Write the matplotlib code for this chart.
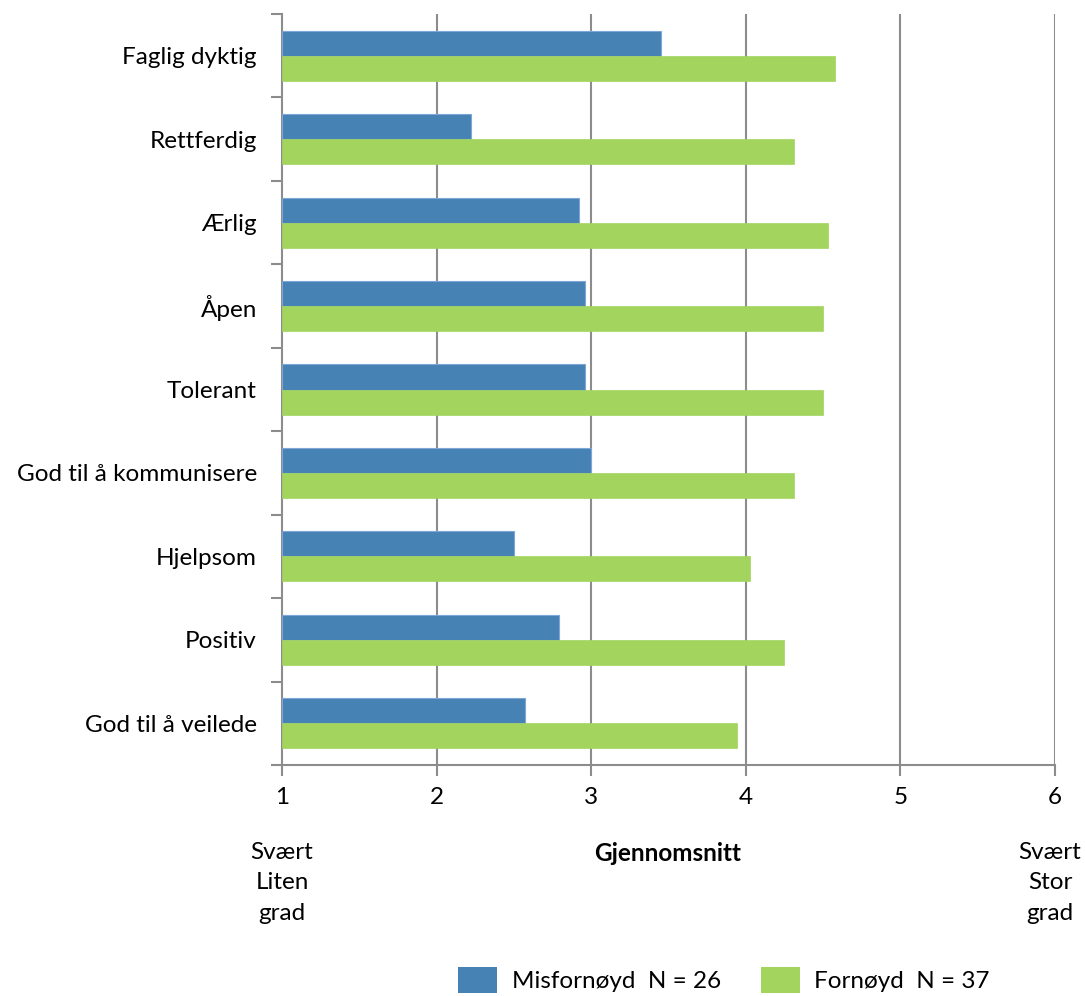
import matplotlib
matplotlib.use("Agg")
import matplotlib.pyplot as plt
from matplotlib.patches import Patch
import numpy as np

categories = ["Faglig dyktig", "Rettferdig", "Ærlig", "Åpen", "Tolerant",
              "God til å kommunisere", "Hjelpsom", "Positiv", "God til å veilede"]
misfornoyd = [3.45, 2.22, 2.92, 2.96, 2.96, 3.00, 2.50, 2.79, 2.57]
fornoyd = [4.58, 4.31, 4.53, 4.50, 4.50, 4.31, 4.03, 4.25, 3.94]
xticks = [1, 2, 3, 4, 5, 6]
series_labels = ["Misfornøyd  N = 26", "Fornøyd  N = 37"]

plt.rcParams['font.family'] = ['Lato', 'DejaVu Sans']
BLUE = '#4682b4'
GREEN = '#a2d45e'
GRID = '#8c8c8c'
FS = 17.5

fig = plt.figure(figsize=(10.85, 9.96), dpi=100)
ax = fig.add_axes([282/1085, 1-765/996, (1055-282)/1085, (765-14)/996])

n = len(categories)
y = np.arange(n)
h = 0.3
ax.barh(y - h/2, [v - 1 for v in misfornoyd], height=h, left=1, color=BLUE,
        edgecolor='#7ea6d6', linewidth=0.8, zorder=3)
ax.barh(y + h/2, [v - 1 for v in fornoyd], height=h, left=1, color=GREEN,
        edgecolor=GREEN, linewidth=0.5, zorder=3)

ax.set_xlim(1, 6)
ax.set_ylim(n - 0.5, -0.5)
ax.set_xticks(xticks)
ax.set_xticklabels([str(t) for t in xticks], fontsize=FS)
ax.set_yticks(y)
ax.set_yticklabels(categories, fontsize=FS)
ax.tick_params(axis='y', length=0, pad=18)
ax.set_yticks(np.arange(-0.5, n, 1), minor=True)
ax.tick_params(axis='y', which='minor', length=8, color=GRID, width=1.5)
ax.tick_params(axis='x', length=8, color=GRID, width=1.5, pad=8)

for xv in xticks[1:]:
    ax.axvline(xv, color=GRID, linewidth=1.5, zorder=1)
for s in ['top', 'right']:
    ax.spines[s].set_visible(False)
for s in ['left', 'bottom']:
    ax.spines[s].set_color(GRID)
    ax.spines[s].set_linewidth(1.5)

fig.text(282/1085, 1-842/996, "Svært\nLiten\ngrad", ha='center', va='top',
         fontsize=FS, linespacing=1.55)
fig.text(1050/1085, 1-842/996, "Svært\nStor\ngrad", ha='center', va='top',
         fontsize=FS, linespacing=1.55)
fig.text(668/1085, 1-842/996, "Gjennomsnitt", ha='center', va='top',
         fontsize=FS, fontweight='bold')

handles = [Patch(facecolor=BLUE), Patch(facecolor=GREEN)]
fig.legend(handles, series_labels, loc='center', bbox_to_anchor=(724/1085, 1-980/996),
           ncol=2, frameon=False, fontsize=FS, handlelength=1.6, handleheight=1.3,
           columnspacing=1.65, handletextpad=0.6, borderpad=0)

fig.savefig("out.png", dpi=100)
